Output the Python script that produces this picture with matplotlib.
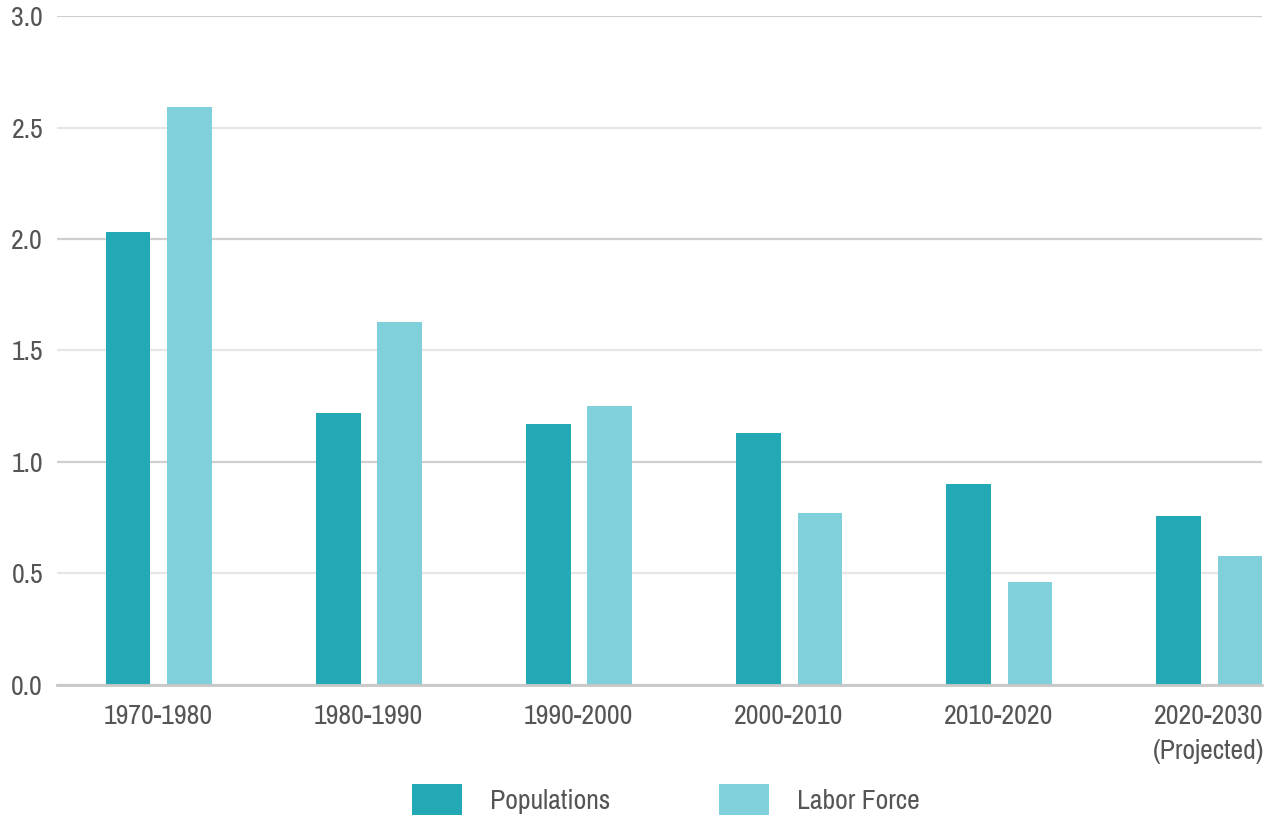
import matplotlib.pyplot as plt
import numpy as np

periods = ["1970-1980", "1980-1990", "1990-2000", "2000-2010", "2010-2020",
           "2020-2030\n(Projected)"]
population = [2.03, 1.22, 1.17, 1.13, 0.90, 0.76]
labor_force = [2.59, 1.63, 1.25, 0.77, 0.46, 0.58]
yticks = [0.0, 0.5, 1.0, 1.5, 2.0, 2.5, 3.0]

pop_color = "#23a9b6"
labor_color = "#80d0db"
text_color = "#555555"

plt.rcParams["font.family"] = ["Archivo Narrow", "DejaVu Sans"]

fig = plt.figure(figsize=(12.72, 8.17), dpi=100)
ax = fig.add_axes([0.0448, 0.1616, 0.9475, 0.8188])

x = np.arange(len(periods))
width = 0.212
ax.bar(x - 0.145, population, width, color=pop_color, label="Populations")
ax.bar(x + 0.147, labor_force, width, color=labor_color, label="Labor Force")

ax.set_xlim(-0.484, 5.253)
ax.set_ylim(0, 3.0)
ax.set_xticks(x)
ax.set_xticklabels(periods, linespacing=1.5)
ax.set_yticks(yticks)
ax.set_yticklabels([f"{v:.1f}" for v in yticks])
ax.tick_params(axis="both", length=0, labelsize=20, labelcolor=text_color)
ax.tick_params(axis="y", pad=10)
ax.tick_params(axis="x", pad=14)

# whole numbers get a darker rule than the half steps
ax.set_axisbelow(True)
ax.grid(axis="y", linewidth=1.6)
for val, line in zip(yticks, ax.yaxis.get_gridlines()):
    line.set_color("#cfcfcf" if val == int(val) else "#e6e6e6")

for side in ["top", "right", "left"]:
    ax.spines[side].set_visible(False)
ax.spines["bottom"].set_color("#c8c8c8")
ax.spines["bottom"].set_linewidth(2)

fig.legend(loc="upper center", bbox_to_anchor=(0.5235, 0.040), ncol=2,
           frameon=False, fontsize=20, labelcolor=text_color,
           handlelength=1.8, handleheight=1.3, handletextpad=1.0,
           columnspacing=3.9, borderpad=0, borderaxespad=0)

fig.savefig("out.png", dpi=100)
